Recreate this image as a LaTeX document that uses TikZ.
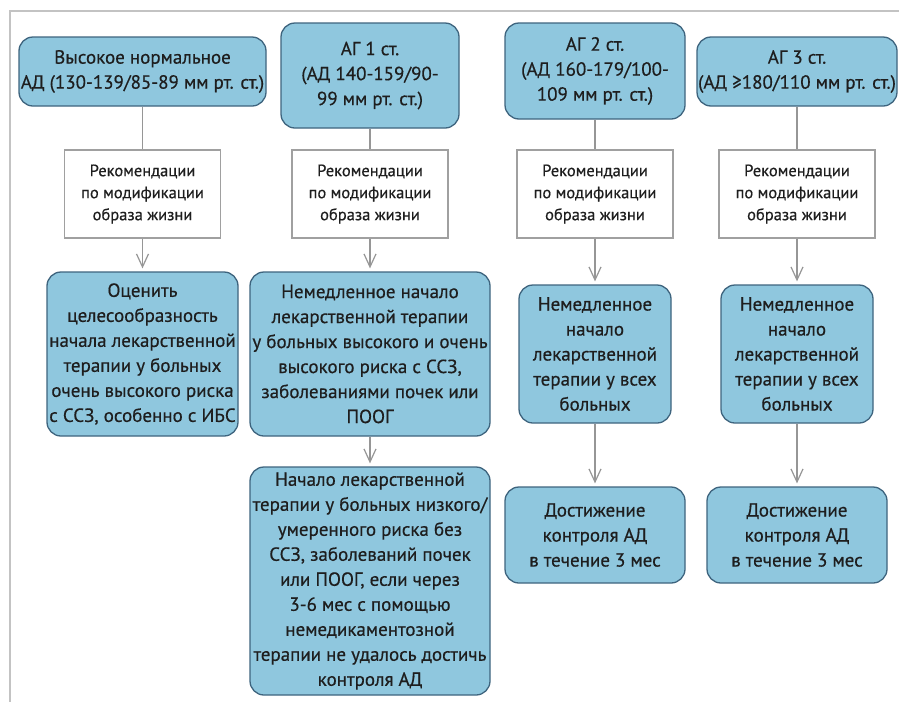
\documentclass[tikz,border=0pt]{standalone}
\usepackage{fontspec}
\setmainfont{PT Sans}[FakeBold=0.5]
\usetikzlibrary{arrows.meta}
\definecolor{boxfill}{RGB}{143,199,222}
\definecolor{boxdraw}{RGB}{62,100,126}
\definecolor{txt}{RGB}{30,30,30}
\definecolor{recdraw}{RGB}{160,160,160}
\definecolor{conn}{RGB}{150,150,150}
\definecolor{frame}{RGB}{195,195,195}
\begin{document}
\begin{tikzpicture}[x=1pt,y=-1pt,
  bluebox/.style={draw=boxdraw,line width=1.3pt,fill=boxfill,rounded corners=14pt,
    align=center,inner sep=0pt,text=txt,font=\fontsize{19}{25}\selectfont},
  recbox/.style={draw=recdraw,line width=1.3pt,fill=white,
    align=center,inner sep=0pt,text=txt,font=\fontsize{16.5}{22}\selectfont,
    minimum width=156pt,minimum height=88pt},
  link/.style={draw=conn,line width=1.2pt},
  arr/.style={link,-{Straight Barb[length=13pt,width=12pt,line width=1.2pt]},shorten >=3pt}
]
\useasboundingbox (0,0) rectangle (899,702);
\fill[white] (0,0) rectangle (899,702);
% frame
\coordinate (ftl) at (10,11);
\coordinate (ftr) at (899,11);
\coordinate (fbl) at (10,702);
\draw[frame,line width=1.8pt] (ftr) -- (ftl) -- (fbl);

% top row
\node[bluebox,minimum width=247pt,minimum height=69pt] (a1) at (142.5,71.5)
  {Высокое нормальное\\АД (130-139/85-89 мм рт. ст.)};
\node[bluebox,minimum width=178pt,minimum height=105pt] (b1) at (370,75.5)
  {АГ 1 ст.\\(АД 140-159/90-\\99 мм рт. ст.)};
\node[bluebox,minimum width=180pt,minimum height=96pt] (c1) at (595,71)
  {АГ 2 ст.\\(АД 160-179/100-\\109 мм рт. ст.)};
\node[bluebox,minimum width=200pt,minimum height=69pt] (d1) at (797,71.5)
  {АГ 3 ст.\\(АД ≥180/110 мм рт. ст.)};

% recommendation row
\node[recbox] (a2) at (142.5,194) {Рекомендации\\по модификации\\образа жизни};
\node[recbox] (b2) at (370,194) {Рекомендации\\по модификации\\образа жизни};
\node[recbox] (c2) at (595,194) {Рекомендации\\по модификации\\образа жизни};
\node[recbox] (d2) at (797,194) {Рекомендации\\по модификации\\образа жизни};

% third row
\node[bluebox,minimum width=191pt,minimum height=164pt] (a3) at (142.5,354)
  {Оценить\\целесообразность\\начала лекарственной\\терапии у больных\\очень высокого риска\\с ССЗ, особенно с ИБС};
\node[bluebox,minimum width=240pt,minimum height=164pt] (b3) at (370,354)
  {Немедленное начало\\лекарственной терапии\\у больных высокого и очень\\высокого риска с ССЗ,\\заболеваниями почек или\\ПООГ};
\node[bluebox,minimum width=152pt,minimum height=138pt] (c3) at (595,354)
  {Немедленное\\начало\\лекарственной\\терапии у всех\\больных};
\node[bluebox,minimum width=152pt,minimum height=138pt] (d3) at (797,354)
  {Немедленное\\начало\\лекарственной\\терапии у всех\\больных};

% fourth row
\node[bluebox,minimum width=240pt,minimum height=228pt] (b4) at (370,581)
  {Начало лекарственной\\терапии у больных низкого/\\умеренного риска без\\ССЗ, заболеваний почек\\или ПООГ, если через\\3-6 мес с помощью\\немедикаментозной\\терапии не удалось достичь\\контроля АД};
\node[bluebox,minimum width=180pt,minimum height=96pt] (c4) at (595,535)
  {Достижение\\контроля АД\\в течение 3 мес};
\node[bluebox,minimum width=180pt,minimum height=96pt] (d4) at (797,535)
  {Достижение\\контроля АД\\в течение 3 мес};

% connectors
\foreach \c in {a,b,c,d} {
  \draw[link] (\c1.south) -- (\c2.north);
  \draw[arr] (\c2.south) -- (\c3.north);
}
\draw[arr] (b3.south) -- (b4.north);
\draw[arr] (c3.south) -- (c4.north);
\draw[arr] (d3.south) -- (d4.north);
\end{tikzpicture}
\end{document}
